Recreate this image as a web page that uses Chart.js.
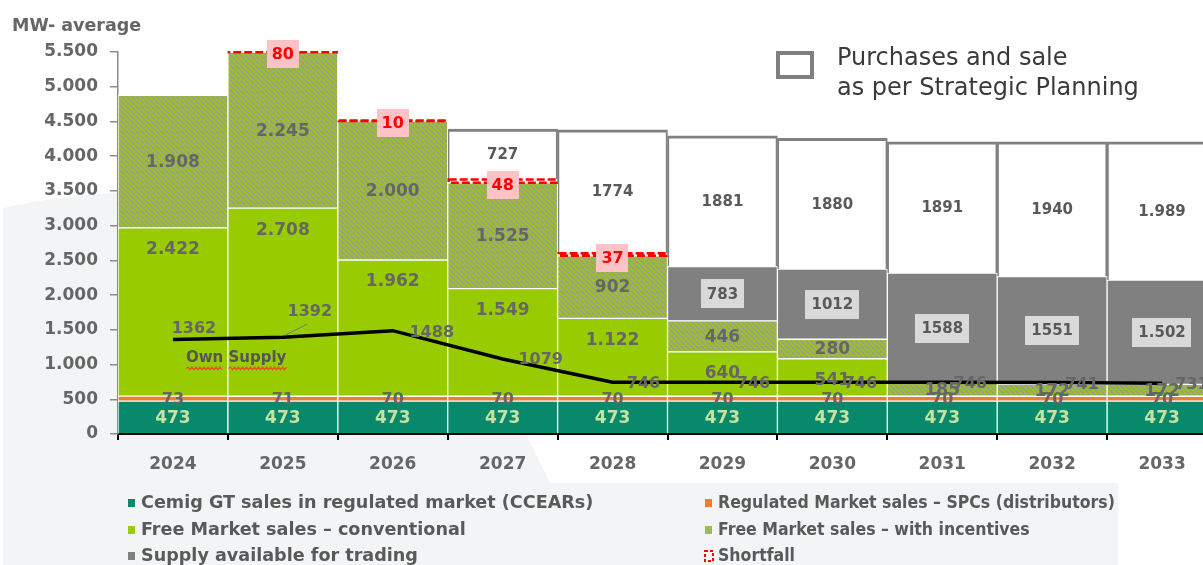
<!DOCTYPE html>
<html>
<head>
<meta charset="utf-8">
<title>Energy balance - MW average</title>
<script src="https://cdn.jsdelivr.net/npm/chart.js@4.4.1/dist/chart.umd.min.js"></script>
<style>
    html, body { margin: 0; padding: 0; background: #fff; }
    body { width: 1203px; height: 565px; overflow: hidden; position: relative; }
    #chartBox { position: absolute; left: 0; top: 0; width: 1222px; height: 565px; }
</style>
</head>
<body>
<div id="chartBox"><canvas id="balanceChart" width="1222" height="565"></canvas></div>
<script>
// Chart data (MW average)
const years = ['2024', '2025', '2026', '2027', '2028', '2029', '2030', '2031', '2032', '2033'];
const ccearSales = [473, 473, 473, 473, 473, 473, 473, 473, 473, 473];
const spcSales = [73, 71, 70, 70, 70, 70, 70, 70, 70, 70];
const freeConventional = [2422, 2708, 1962, 1549, 1122, 640, 541, null, null, null];
const freeIncentive = [1908, 2245, 2000, 1525, 902, 446, 280, 185, 172, 172];
const supplyForTrading = [null, null, null, null, null, 783, 1012, 1588, 1551, 1502];
const shortfall = [null, 80, 10, 48, 37, null, null, null, null, null];
const strategicPlanning = [null, null, null, 727, 1774, 1881, 1880, 1891, 1940, 1989];
const ownSupply = [1362, 1392, 1488, 1079, 746, 746, 746, 746, 741, 731];
const yMax = 5500;
const yStep = 500;

const FONT = "'DejaVu Sans', sans-serif";
const LEGEND_FONT = "'DejaVu Sans Condensed', 'DejaVu Sans', sans-serif";
const TEXT_GRAY = '#666666';

// "5.500" style numbers
function dotted(v) {
    if (v < 1000) return String(v);
    return Math.floor(v / 1000) + '.' + String(v % 1000).padStart(3, '0');
}

// only the last year carries the thousands dot in the planning / trading boxes
function dottedLastYear(v, i) {
    return i === years.length - 1 ? dotted(v) : String(v);
}

function makeHatch() {
    const c = document.createElement('canvas');
    c.width = 5;
    c.height = 5;
    const g = c.getContext('2d');
    g.fillStyle = '#99CC00';
    g.fillRect(0, 0, 5, 5);
    g.strokeStyle = '#9C9C94';
    g.lineWidth = 2;
    for (let k = -1; k <= 1; k++) {
        g.beginPath();
        g.moveTo(k * 5, 0);
        g.lineTo(k * 5 + 5, 5);
        g.stroke();
    }
    return g.createPattern(c, 'repeat');
}

function drawLabel(ctx, text, x, y, opt) {
    ctx.font = 'bold ' + opt.size + 'px ' + FONT;
    ctx.textAlign = 'center';
    ctx.textBaseline = 'middle';
    if (opt.box) {
        const w = ctx.measureText(text).width + opt.padX * 2;
        const h = opt.size + opt.padY * 2;
        ctx.fillStyle = opt.box;
        ctx.fillRect(Math.round(x - w / 2), Math.round(y - h / 2), Math.round(w), Math.round(h));
    }
    ctx.fillStyle = opt.color;
    ctx.fillText(text, x, y + 1);
}

function squiggle(ctx, x1, x2, y) {
    ctx.save();
    ctx.strokeStyle = '#E4532B';
    ctx.lineWidth = 1.2;
    ctx.beginPath();
    let up = true;
    ctx.moveTo(x1, y);
    for (let x = x1 + 2; x <= x2; x += 2) {
        ctx.lineTo(x, up ? y - 1.3 : y + 1.3);
        up = !up;
    }
    ctx.stroke();
    ctx.restore();
}

// light gray backdrop shape behind the left side and the legend
const backdropPlugin = {
    id: 'backdrop',
    beforeDraw(chart) {
        const ctx = chart.ctx;
        const a = chart.chartArea;
        ctx.save();
        ctx.fillStyle = '#F3F4F6';
        ctx.beginPath();
        ctx.moveTo(3, 208);
        ctx.quadraticCurveTo(60, 195, 130, 192);
        ctx.lineTo(a.right, 192);
        ctx.lineTo(a.right, a.bottom + 2);
        ctx.lineTo(527, a.bottom + 2);
        ctx.lineTo(550, 483);
        ctx.lineTo(1118, 483);
        ctx.lineTo(1118, 565);
        ctx.lineTo(3, 565);
        ctx.closePath();
        ctx.fill();
        ctx.restore();
    }
};

// shortfall boxes are dashed red outlines
const shortfallPlugin = {
    id: 'shortfallOutline',
    afterDatasetsDraw(chart) {
        const ctx = chart.ctx;
        const a = chart.chartArea;
        chart.data.datasets.forEach((ds, di) => {
            if (!ds.dashedOutline) return;
            const meta = chart.getDatasetMeta(di);
            ctx.save();
            ctx.beginPath();
            ctx.rect(a.left, a.top - 1, a.right - a.left, a.bottom - a.top);
            ctx.clip();
            ctx.strokeStyle = '#FF0000';
            ctx.lineWidth = 2.5;
            ctx.setLineDash([8, 3]);
            meta.data.forEach((bar, i) => {
                if (ds.data[i] == null) return;
                const p = bar.getProps(['x', 'y', 'base', 'width'], true);
                ctx.strokeRect(p.x - p.width / 2 + 1, p.y, p.width - 2, p.base - p.y);
            });
            ctx.restore();
        });
    }
};

// value labels, line labels and the "Own Supply" note
const labelPlugin = {
    id: 'valueLabels',
    afterDatasetsDraw(chart) {
        const ctx = chart.ctx;
        ctx.save();
        chart.data.datasets.forEach((ds, di) => {
            const lab = ds.valueLabel;
            if (!lab) return;
            const meta = chart.getDatasetMeta(di);
            meta.data.forEach((el, i) => {
                const v = ds.data[i];
                if (v == null) return;
                let x, y;
                if (ds.type === 'line') {
                    x = el.x;
                    y = el.y;
                } else {
                    const p = el.getProps(['x', 'y', 'base'], true);
                    x = p.x;
                    y = (p.y + p.base) / 2;
                    if (lab.pos === 'top') y = p.y + lab.offset;
                    if (lab.pos === 'base') y = p.base + lab.offset;
                }
                if (lab.shift) {
                    x += lab.shift[i][0];
                    y += lab.shift[i][1];
                }
                drawLabel(ctx, lab.format ? lab.format(v, i) : String(v), x, y, lab);
            });
        });

        // leader from the 2025 point to its label
        const lineMeta = chart.getDatasetMeta(chart.data.datasets.length - 1);
        const p1 = lineMeta.data[1];
        ctx.strokeStyle = '#777';
        ctx.lineWidth = 1;
        ctx.beginPath();
        ctx.moveTo(p1.x + 2, p1.y - 2);
        ctx.lineTo(p1.x + 24, p1.y - 13);
        ctx.stroke();

        // "Own Supply" note with the spell-check underline
        const p0 = lineMeta.data[0];
        ctx.font = 'bold 15px ' + FONT;
        ctx.fillStyle = '#555';
        ctx.textAlign = 'left';
        ctx.textBaseline = 'middle';
        const nx = p0.x + 13;
        const ny = p0.y + 19;
        ctx.fillText('Own Supply', nx, ny);
        const wOwn = ctx.measureText('Own').width;
        const wAll = ctx.measureText('Own Supply').width;
        const wSp = ctx.measureText('Own ').width;
        squiggle(ctx, nx, nx + wOwn, ny + 10);
        squiggle(ctx, nx + wSp, nx + wAll + 2, ny + 10);
        ctx.restore();
    }
};

// legends: bottom two-column list and the top-right planning box
const legendPlugin = {
    id: 'customLegend',
    afterDraw(chart) {
        const ctx = chart.ctx;
        const colX = [128, 705];
        const colStretch = [1.15, 1.03];
        const rowY = [503, 530, 556];
        ctx.save();
        ctx.textAlign = 'left';
        ctx.textBaseline = 'middle';
        chart.data.datasets.forEach(ds => {
            if (!ds.legendSlot) return;
            const x = colX[ds.legendSlot[0]];
            const y = rowY[ds.legendSlot[1]];
            if (ds.dashedOutline) {
                ctx.fillStyle = '#fff';
                ctx.fillRect(x, y - 5, 8, 10);
                ctx.strokeStyle = '#FF0000';
                ctx.lineWidth = 2;
                ctx.setLineDash([3, 2]);
                ctx.strokeRect(x, y - 5, 8, 10);
                ctx.setLineDash([]);
            } else {
                ctx.fillStyle = ds.legendColor || ds.backgroundColor;
                ctx.fillRect(x, y - 4, 7, 8);
            }
            ctx.save();
            ctx.translate(x + 13, y + 1);
            ctx.scale(colStretch[ds.legendSlot[0]], 1);
            ctx.fillStyle = '#595959';
            ctx.font = 'bold 17px ' + LEGEND_FONT;
            ctx.fillText(ds.label, 0, 0);
            ctx.restore();
        });

        // planning box legend
        ctx.strokeStyle = '#7F7F7F';
        ctx.lineWidth = 4;
        ctx.strokeRect(778, 53, 34, 24);
        ctx.fillStyle = '#3A3A3A';
        ctx.font = '24px ' + FONT;
        ctx.fillText('Purchases and sale', 837, 59);
        ctx.fillText('as per Strategic Planning', 837, 89);

        // unit title
        ctx.fillStyle = TEXT_GRAY;
        ctx.font = 'bold 17.5px ' + FONT;
        ctx.fillText('MW- average', 12, 26);
        ctx.restore();
    }
};

const segBorder = { borderColor: '#FFFFFF', borderWidth: 1, borderSkipped: false };

const lineLabelShift = [[21, -12], [27, -26], [39, 1], [38, 0], [31, 1], [31, 1], [28, 1], [28, 1], [30, 1], [30, 1]];

const ctx = document.getElementById('balanceChart');
const balanceChart = new Chart(ctx, {
    data: {
        labels: years,
        datasets: [
            Object.assign({
                type: 'bar',
                label: 'Cemig GT sales in regulated market (CCEARs)',
                data: ccearSales,
                backgroundColor: '#08896C',
                legendSlot: [0, 0],
                valueLabel: { color: '#C5E3A0', size: 17 }
            }, segBorder, { borderSkipped: 'start' }),
            Object.assign({
                type: 'bar',
                label: 'Regulated Market sales \u2013 SPCs (distributors)',
                data: spcSales,
                backgroundColor: '#ED7D31',
                legendSlot: [1, 0],
                valueLabel: { color: TEXT_GRAY, size: 16 }
            }, segBorder),
            Object.assign({
                type: 'bar',
                label: 'Free Market sales \u2013 conventional',
                data: freeConventional,
                backgroundColor: '#99CC00',
                legendSlot: [0, 1],
                valueLabel: { color: TEXT_GRAY, size: 17, pos: 'top', offset: 21, format: dotted }
            }, segBorder),
            Object.assign({
                type: 'bar',
                label: 'Free Market sales \u2013 with incentives',
                data: freeIncentive,
                backgroundColor: makeHatch(),
                legendColor: '#9BBB59',
                legendSlot: [1, 1],
                valueLabel: { color: TEXT_GRAY, size: 17, format: dotted }
            }, segBorder),
            Object.assign({
                type: 'bar',
                label: 'Supply available for trading',
                data: supplyForTrading,
                backgroundColor: '#808080',
                legendSlot: [0, 2],
                valueLabel: { color: '#595959', size: 15, box: '#D9D9D9', padX: 6, padY: 7, format: dottedLastYear }
            }, segBorder),
            {
                type: 'bar',
                label: 'Shortfall',
                data: shortfall,
                backgroundColor: 'rgba(0,0,0,0)',
                borderWidth: 0,
                dashedOutline: true,
                legendSlot: [1, 2],
                valueLabel: { color: '#FF0000', size: 16, box: '#FFC2C6', padX: 5, padY: 6, pos: 'base', offset: 2 }
            },
            {
                type: 'bar',
                label: 'Purchases and sale as per Strategic Planning',
                data: strategicPlanning,
                backgroundColor: '#FFFFFF',
                borderColor: '#808080',
                borderWidth: { top: 3, left: 2, right: 2, bottom: 0 },
                borderSkipped: false,
                valueLabel: { color: '#595959', size: 15, format: dottedLastYear }
            },
            {
                type: 'line',
                label: 'Own Supply',
                data: ownSupply,
                stack: 'own',
                borderColor: '#000000',
                borderWidth: 3.5,
                pointRadius: 0,
                tension: 0,
                order: -1,
                valueLabel: { color: TEXT_GRAY, size: 16, shift: lineLabelShift }
            }
        ]
    },
    options: {
        responsive: false,
        animation: false,
        devicePixelRatio: 1,
        layout: { padding: { top: 52, right: 5, left: 0, bottom: 0 } },
        datasets: {
            bar: { barPercentage: 1, categoryPercentage: 1 }
        },
        plugins: {
            legend: { display: false },
            tooltip: { enabled: false }
        },
        scales: {
            x: {
                stacked: true,
                z: 1,
                ticks: {
                    color: TEXT_GRAY,
                    padding: 14,
                    font: { family: FONT, size: 17, weight: 'bold' }
                },
                grid: { drawOnChartArea: false, offset: true, tickLength: 6, color: '#000', lineWidth: 2 },
                border: { color: '#000', width: 2 },
                afterFit: function(scale) { scale.height = 131; }
            },
            y: {
                stacked: true,
                min: 0,
                max: yMax,
                ticks: {
                    stepSize: yStep,
                    color: TEXT_GRAY,
                    padding: 12,
                    font: { family: FONT, size: 17, weight: 'bold' },
                    callback: function(v) { return dotted(v); }
                },
                grid: { drawOnChartArea: false, tickLength: 8, color: '#8C8C8C', lineWidth: 1.5 },
                border: { color: '#8C8C8C', width: 1.5 },
                afterFit: function(scale) { scale.width = 118; }
            }
        }
    },
    plugins: [backdropPlugin, shortfallPlugin, labelPlugin, legendPlugin]
});

window.balanceChart = balanceChart;
</script>
</body>
</html>
